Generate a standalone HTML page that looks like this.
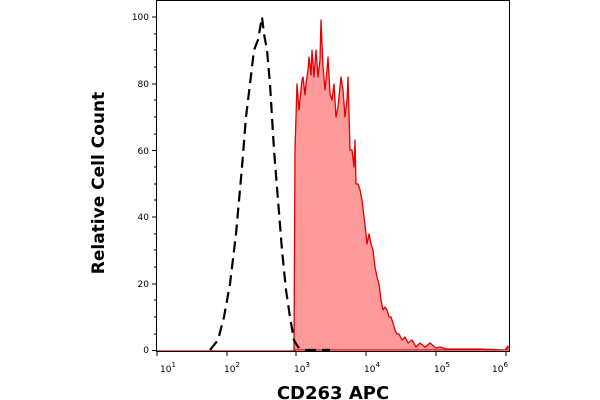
<!DOCTYPE html>
<html><head><style>body{margin:0;background:#fff}svg{display:block}</style></head><body>
<svg width="600" height="400" viewBox="0 0 600 400" xmlns="http://www.w3.org/2000/svg">
<rect width="600" height="400" fill="#fff"/>
<path fill="#ff9a9a" stroke="#e00000" stroke-width="1.3" stroke-linejoin="round" d="M294,350 L295,150 297,84 299,110 300,100 302,80 303,77 305,95 306,84 308,70 309,57 311,75 312,50 314,77 316,50 318,77 320,60 321,20 323,67 325,90 327,70 328,57 330,94 332,100 334,84 336,117 338,107 341,77 343,90 345,117 347,100 348,77 350,150 352,150 354,167 355,140 356,184 358,184 360,190 362,200 364,217 366,234 367,244 369,234 371,244 373,250 375,267 377,277 379,284 381,300 383,310 385,307 387,310 389,317 391,317 393,323 395,330 397,334 399,334 402,340 405,337 408,343 412,340 416,347 420,343 425,347 430,343 436,348 440,347 446,349 460,349 480,349 505,350 508,346 L508,350 Z"/>
<path fill="none" stroke="#000" stroke-width="2.2" stroke-dasharray="11,6" d="M210,350 L218,340 224,317 230,284 236,234 242,167 246,117 250,84 254,50 258,40 262,17 264,34 267,50 270,84 274,150 278,200 282,250 286,290 290,317 294,340 298,347 305,350 330,350"/>
<line x1="156" y1="351" x2="296" y2="351" stroke="#e00000" stroke-width="1.3"/>
<g stroke="#000" stroke-width="1" fill="none">
<path d="M156.5,0 V351.5 H509.5 V0"/>
<line x1="156" y1="0.5" x2="509" y2="0.5"/>
<path d="M152,350.5h4M152,284h4M152,217h4M152,150.5h4M152,84h4M152,17h4"/>
<path d="M154,334h2M154,317h2M154,300h2M154,267h2M154,250h2M154,234h2M154,200h2M154,184h2M154,167h2M154,134h2M154,117h2M154,100h2M154,67h2M154,50h2M154,34h2"/>
<path d="M157,351v5M227,351v5M296,351v5M366,351v5M436,351v5M506,351v5"/>
</g>
<g font-family="DejaVu Sans, sans-serif" font-size="9" fill="#000" text-anchor="end">
<text x="149" y="353">0</text><text x="149" y="287">20</text><text x="149" y="220">40</text>
<text x="149" y="154">60</text><text x="149" y="87">80</text><text x="149" y="20">100</text>
</g>
<g font-family="DejaVu Sans, sans-serif" font-size="9" fill="#000">
<text x="160" y="372">10<tspan font-size="7" dy="-5">1</tspan></text>
<text x="224" y="372">10<tspan font-size="7" dy="-5">2</tspan></text>
<text x="294" y="372">10<tspan font-size="7" dy="-5">3</tspan></text>
<text x="364" y="372">10<tspan font-size="7" dy="-5">4</tspan></text>
<text x="434" y="372">10<tspan font-size="7" dy="-5">5</tspan></text>
<text x="492" y="372">10<tspan font-size="7" dy="-5">6</tspan></text>
</g>
<text x="333" y="399" text-anchor="middle" font-family="DejaVu Sans, sans-serif" font-weight="bold" font-size="18">CD263 APC</text>
<text transform="translate(104,183) rotate(-90)" text-anchor="middle" font-family="DejaVu Sans, sans-serif" font-weight="bold" font-size="17">Relative Cell Count</text>
</svg>
</body></html>
